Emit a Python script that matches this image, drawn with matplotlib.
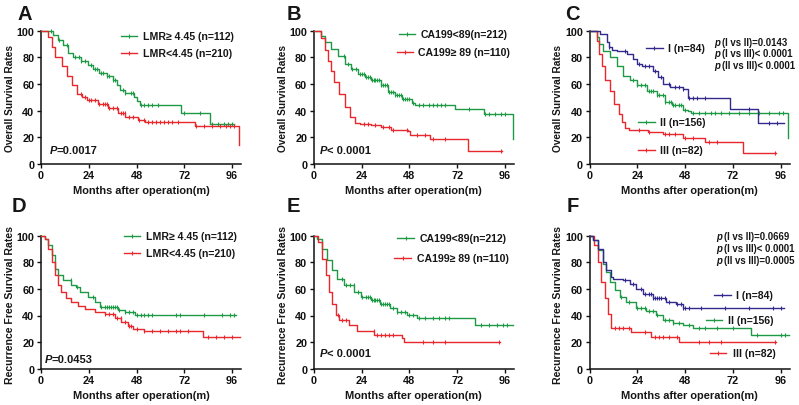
import numpy as np
import matplotlib
matplotlib.use("Agg")
import matplotlib.pyplot as plt

plt.rcParams['font.family'] = ['Liberation Sans', 'DejaVu Sans']
plt.rcParams['font.weight'] = 'bold'

GREEN = '#1e9a46'
RED = '#e8282c'
BLUE = '#33298c'

x_ticks = [0, 24, 48, 72, 96]
y_ticks = [0, 20, 40, 60, 80, 100]
xlabel = "Months after operation(m)"
ylabel_os = "Overall Survival Rates"
ylabel_rfs = "Recurrence Free Survival Rates"

# ---------------- Panel A (OS by LMR) ----------------
A_hi_t = [0, 6, 8.5, 11, 13.5, 16, 20, 23.5, 26, 29, 33, 36, 38, 39.5, 42, 46.5, 48, 49.7, 70.6, 84.8, 97]
A_hi_s = [100, 97, 93, 89, 83, 80, 77, 74.5, 71, 68.5, 66, 63, 59, 55.5, 53.5, 50, 47.5, 44.5, 38, 29.5, 29.5]
A_hi_c = [5, 9, 13, 17, 19, 20, 22, 25, 27, 28, 30, 31, 33, 34, 36, 37, 41, 42, 45, 46, 50, 52, 54, 56, 59, 72, 80, 86, 89, 92, 94, 96]
A_lo_t = [0, 3.3, 5.3, 7, 10.4, 12.9, 15.4, 17.9, 20.4, 22.9, 28.8, 33.8, 38.8, 42.2, 48.9, 52.3, 77.4, 99.5]
A_lo_s = [100, 95, 87.5, 80, 73.8, 66.3, 58.8, 52.5, 50, 48, 45, 42, 38, 35, 33, 31.3, 28, 14]
A_lo_c = [20, 22, 24, 25, 27, 29, 31, 32, 33, 34, 36, 38, 40, 41, 42, 44, 46, 49, 52, 54, 56, 58, 60, 62, 64, 66, 69, 78, 82, 86, 90, 93, 95, 97]

# ---------------- Panel B (OS by CA199) ----------------
B_lo_t = [0, 3.7, 5.4, 8.7, 12.1, 15.5, 18.8, 22.2, 25.6, 28.9, 34, 37.4, 40.7, 44.1, 49.1, 50.8, 71, 85.3, 100.3]
B_lo_s = [100, 96.3, 91.3, 86.3, 81.3, 75, 71.3, 67.6, 65, 62.6, 58.8, 53.8, 51.3, 48.8, 45.5, 44, 41.3, 37, 18.8]
B_lo_c = [15, 17, 19, 21, 23, 24, 25, 26, 27, 28, 29, 30, 31, 32, 33, 34, 35, 36, 37, 38, 39, 40, 41, 42, 43, 44, 45, 46, 47, 48,
          50, 53, 55, 58, 60, 62, 64, 66, 78, 86, 88, 91, 94, 96]
B_hi_t = [0, 3.7, 5.4, 7, 8.7, 10.4, 12.9, 15.5, 18, 20.5, 23, 28.9, 34, 39, 47.5, 48.3, 58.4, 77.7, 94.6]
B_hi_s = [100, 94.5, 85.6, 77.5, 70, 61.3, 52.5, 42.5, 35, 30.5, 30, 28.8, 27.5, 25.5, 24.5, 21.3, 18.3, 9.6, 9.6]
B_hi_c = [25, 27, 31, 35, 38, 40, 47, 52, 56, 60, 66, 94]

# ---------------- Panel C (OS by stage) ----------------
C_I_t = [0, 5.4, 8.75, 9.6, 11.25, 13.75, 18.75, 22, 23.75, 26.25, 32, 34.6, 37, 40.4, 47, 49.6, 70.4, 84.6, 97.9]
C_I_s = [100, 97.5, 91.3, 87.5, 85.6, 85, 82.5, 78.8, 75, 73.8, 70, 65, 60, 57.5, 56.3, 49.5, 41.3, 30.5, 30.5]
C_I_c = [10, 18, 25, 28, 30, 33, 36, 40, 43, 45, 47, 50, 52, 54, 58, 80, 90, 94]
C_II_t = [0, 3.75, 4.6, 7, 10.4, 13.75, 17, 20.4, 23.75, 28.75, 33.75, 37.9, 41.25, 47, 49.5, 51, 99.6]
C_II_s = [100, 95, 90, 85, 80, 73.8, 66.3, 62.6, 58.8, 55, 51.3, 46.3, 43.8, 40.5, 39.5, 38.3, 19.5]
C_II_c = [22, 24, 26, 28, 30, 31, 32, 34, 35, 37, 38, 40, 41, 42, 43, 45, 46, 48, 52, 55, 58, 61, 63, 66, 70, 75, 80, 85, 90, 95, 97]
C_III_t = [0, 3.75, 4.6, 6.25, 7.9, 10.4, 12.1, 14.6, 16.25, 17.9, 19.6, 29.6, 37.1, 47, 57.9, 77.1, 93.75]
C_III_s = [100, 92.5, 82.5, 73.8, 62.6, 55, 45, 37.5, 31.3, 27, 25, 23.5, 22.5, 19.5, 16.3, 7.9, 7.9]
C_III_c = [25, 30, 38, 40, 43, 48, 52, 60, 64, 93]

# ---------------- Panel D (RFS by LMR) ----------------
D_hi_t = [0, 2, 3.6, 5.3, 7, 8.6, 11.15, 15.3, 17.8, 19.5, 23.65, 27, 29.5, 38.65, 42, 47, 97.8]
D_hi_s = [100, 97.8, 92.8, 85.3, 75.3, 70.3, 66.5, 62.8, 61.5, 57.8, 54, 49.8, 46.5, 44, 42.8, 40.3, 40.3]
D_hi_c = [15, 18, 26, 30, 32, 33, 34, 35, 36, 37, 38, 39, 42, 44, 46, 48, 50, 52, 54, 56, 68, 70, 82, 91, 95, 97]
D_lo_t = [0, 2, 3.6, 5.3, 7, 8.6, 10.3, 12.8, 15.3, 18.65, 22, 27, 32, 37, 40.3, 43.65, 46.15, 52, 81.2, 100]
D_lo_s = [100, 97.8, 90.3, 80.3, 70.3, 62.8, 57.8, 52.8, 50.3, 47.3, 44.8, 42.8, 40.8, 37.8, 34.8, 32.3, 29.5, 28.3, 24, 24]
D_lo_c = [32, 34, 36, 38, 40, 42, 44, 45, 48, 52, 56, 60, 64, 68, 70, 74, 84, 88, 92, 96]

# ---------------- Panel E (RFS by CA199) ----------------
E_lo_t = [0, 1.8, 4.3, 6.8, 9.3, 11.8, 15.2, 20.2, 23.5, 28.5, 33.5, 38.5, 41.8, 46.8, 51.8, 81, 100]
E_lo_s = [100, 97.8, 90.3, 81.5, 74, 67.8, 62.8, 57.8, 54, 51.5, 49, 45.3, 42.8, 40.3, 37.8, 33, 33]
E_lo_c = [14, 16, 18, 20, 22, 24, 26, 27, 28, 29, 30, 31, 32, 33, 34, 35, 36, 37, 38, 40, 42, 44, 46, 48, 50, 53, 56, 60, 63,
          66, 68, 84, 88, 92, 95, 97]
E_hi_t = [0, 2.2, 4.3, 6, 7.7, 9.3, 11, 12.7, 17.7, 21.8, 30.2, 44.3, 45.2, 93.5]
E_hi_s = [100, 95.3, 82.8, 70.3, 57.8, 49, 40.3, 36.5, 32.8, 28.3, 25.3, 23.3, 20.3, 20.3]
E_hi_c = [12, 14, 16, 30, 32, 34, 36, 38, 40, 55, 60, 66, 93]

# ---------------- Panel F (RFS by stage) ----------------
F_I_t = [0, 1.8, 4.3, 6.8, 8.5, 11, 11.8, 16.8, 20.2, 23.5, 26.8, 31.8, 38.5, 43.5, 46.8, 97.7]
F_I_s = [100, 96.5, 90.3, 80.3, 74, 69, 67.3, 66.5, 64, 60.3, 56.5, 52.8, 50.3, 48.3, 45.3, 45.3]
F_I_c = [18, 22, 26, 28, 30, 31, 32, 33, 34, 35, 36, 38, 40, 44, 46, 47, 48, 50, 56, 68, 80, 92, 96]
F_II_t = [0, 1.8, 4.3, 6.8, 8.5, 10.2, 12.7, 15.2, 18.5, 23.5, 28.5, 33.5, 36.8, 41.8, 46.8, 51.8, 81, 100]
F_II_s = [100, 96.5, 89, 79, 72.8, 65.3, 59, 54, 50.3, 45.8, 43.3, 40.3, 36.5, 34, 32.8, 30.5, 25.5, 25.5]
F_II_c = [16, 20, 24, 26, 28, 30, 32, 34, 38, 40, 42, 45, 50, 55, 58, 64, 72, 84, 96, 98]
F_III_t = [0, 2.2, 4.3, 6, 7.7, 9.3, 11, 21, 31, 45.2, 93.5]
F_III_s = [100, 92.8, 80.3, 65.3, 52.8, 41.5, 30.8, 27.8, 24, 19.8, 19.8]
F_III_c = [13, 15, 17, 20, 28, 33, 35, 37, 40, 44, 55, 60, 66, 93]

fig = plt.figure(figsize=(7.99, 4.06), dpi=100)
W, H = 799.0, 406.0
lefts = [41, 313.8, 589.5]
bottoms = [406 - 164.7, 406 - 369.7]
AW, AH = 200, 133
TXT = '#161616'


def km(ax, t, s, cens, color):
    t = np.asarray(t, float)
    s = np.asarray(s, float)
    ax.step(t, s, where='post', color=color, lw=1.0, clip_on=False, zorder=3)
    c = np.asarray(cens, float)
    idx = np.searchsorted(t, c, side='right') - 1
    ax.plot(c, s[idx], linestyle='none', marker='|', markersize=3.4, mew=0.8,
            color=color, clip_on=False, zorder=3)


def leg(ax, x0, x1, xt, y, color, label, fs=7.6):
    ax.plot([x0, x1], [y, y], color=color, lw=1.0, transform=ax.transAxes, clip_on=False)
    ax.plot([(x0 + x1) / 2], [y], marker='|', markersize=3.4, mew=0.8, color=color,
            transform=ax.transAxes, clip_on=False)
    ax.text(xt, y, label, transform=ax.transAxes, ha='left', va='center', fontsize=fs,
            fontweight='bold', color=TXT)


def ptext(ax, x, y, letter, rest, fs, gap):
    ax.text(x, y, letter, transform=ax.transAxes, fontsize=fs, fontweight='bold',
            style='italic', va='center', ha='left', color=TXT)
    ax.text(x + gap, y, rest, transform=ax.transAxes, fontsize=fs, fontweight='bold',
            va='center', ha='left', color=TXT)


def make_ax(col, row):
    ax = fig.add_axes([lefts[col] / W, bottoms[row] / H, AW / W, AH / H])
    ax.set_xlim(0, 100.5)
    ax.set_ylim(0, 100)
    ax.set_xticks(x_ticks)
    ax.set_yticks(y_ticks)
    for sp in ['top', 'right']:
        ax.spines[sp].set_visible(False)
    for sp in ['left', 'bottom']:
        ax.spines[sp].set_linewidth(1.1)
        ax.spines[sp].set_color('#111111')
    ax.tick_params(length=3.2, width=1.0, labelsize=7.8, pad=1.6, colors='#111111')
    for lab in ax.get_xticklabels() + ax.get_yticklabels():
        lab.set_fontweight('bold')
    ax.patch.set_alpha(0)
    return ax


letters = ['A', 'B', 'C', 'D', 'E', 'F']
letter_pos = [(18, 15), (287, 15), (565, 15), (12, 206), (287, 206), (567, 206)]
ylab_x = [10, 283, 558]

axes = []
for row in range(2):
    for col in range(3):
        ax = make_ax(col, row)
        axes.append(ax)
        fig.text((lefts[col] + AW / 2) / W, 1 - (190.7 if row == 0 else 395.7) / H, xlabel,
                 ha='center', va='center', fontsize=7.9, fontweight='bold', color=TXT)
        yl = ylabel_os if row == 0 else ylabel_rfs
        yc = (31.7 + 164.7) / 2 if row == 0 else (236.7 + 369.7) / 2 + 2
        fig.text(ylab_x[col] / W, 1 - yc / H, yl, rotation=90, ha='center', va='center',
                 fontsize=7.3 if row == 0 else 7.6, fontweight='bold', color=TXT)

for L, (lx, ly) in zip(letters, letter_pos):
    fig.text(lx / W, 1 - ly / H, L, ha='left', va='center', fontsize=14.5, fontweight='bold', color=TXT)

# A
ax = axes[0]
km(ax, A_hi_t, A_hi_s, A_hi_c, GREEN)
km(ax, A_lo_t, A_lo_s, A_lo_c, RED)
leg(ax, 0.40, 0.48, 0.51, 0.962, GREEN, "LMR\u2265 4.45 (n=112)")
leg(ax, 0.40, 0.48, 0.51, 0.832, RED, "LMR<4.45 (n=210)")
ptext(ax, 0.042, 0.105, "P", "=0.0017", 8.0, 0.036)

# B
ax = axes[1]
km(ax, B_lo_t, B_lo_s, B_lo_c, GREEN)
km(ax, B_hi_t, B_hi_s, B_hi_c, RED)
leg(ax, 0.425, 0.505, 0.535, 0.975, GREEN, "CA199<89(n=212)")
leg(ax, 0.415, 0.495, 0.52, 0.84, RED, "CA199\u2265 89 (n=110)")
ptext(ax, 0.03, 0.10, "P", "< 0.0001", 8.0, 0.036)

# C
ax = axes[2]
km(ax, C_II_t, C_II_s, C_II_c, GREEN)
km(ax, C_III_t, C_III_s, C_III_c, RED)
km(ax, C_I_t, C_I_s, C_I_c, BLUE)
leg(ax, 0.28, 0.365, 0.39, 0.87, BLUE, "I (n=84)")
leg(ax, 0.24, 0.325, 0.35, 0.311, GREEN, "II (n=156)")
leg(ax, 0.24, 0.325, 0.35, 0.105, RED, "III (n=82)")
for k, txt in enumerate(["(I vs II)=0.0143", "(I vs III)< 0.0001", "(II vs III)< 0.0001"]):
    ptext(ax, 0.622, 0.917 - k * 0.087, "p", txt, 6.9, 0.04)

# D
ax = axes[3]
km(ax, D_hi_t, D_hi_s, D_hi_c, GREEN)
km(ax, D_lo_t, D_lo_s, D_lo_c, RED)
leg(ax, 0.413, 0.496, 0.527, 1.0, GREEN, "LMR\u2265 4.45 (n=112)")
leg(ax, 0.413, 0.496, 0.527, 0.872, RED, "LMR<4.45 (n=210)")
ptext(ax, 0.018, 0.075, "P", "=0.0453", 8.0, 0.036)

# E
ax = axes[4]
km(ax, E_lo_t, E_lo_s, E_lo_c, GREEN)
km(ax, E_hi_t, E_hi_s, E_hi_c, RED)
leg(ax, 0.418, 0.50, 0.53, 0.98, GREEN, "CA199<89(n=212)")
leg(ax, 0.402, 0.485, 0.515, 0.832, RED, "CA199\u2265 89 (n=110)")
ptext(ax, 0.03, 0.118, "P", "< 0.0001", 8.0, 0.036)

# F
ax = axes[5]
km(ax, F_II_t, F_II_s, F_II_c, GREEN)
km(ax, F_III_t, F_III_s, F_III_c, RED)
km(ax, F_I_t, F_I_s, F_I_c, BLUE)
leg(ax, 0.62, 0.707, 0.73, 0.552, BLUE, "I (n=84)")
leg(ax, 0.58, 0.66, 0.69, 0.368, GREEN, "II (n=156)")
leg(ax, 0.60, 0.68, 0.715, 0.12, RED, "III (n=82)")
for k, txt in enumerate(["(I vs II)=0.0669", "(I vs III)< 0.0001", "(II vs III)=0.0005"]):
    ptext(ax, 0.634, 0.995 - k * 0.087, "p", txt, 6.9, 0.04)

fig.savefig("out.png", dpi=100)
